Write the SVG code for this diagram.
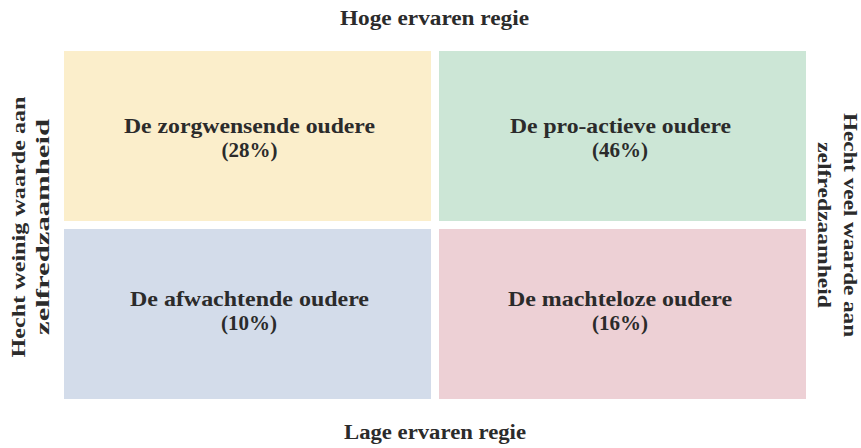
<svg xmlns="http://www.w3.org/2000/svg" width="861" height="448" viewBox="0 0 861 448">
<style>
text{font-family:"Liberation Serif","DejaVu Serif",serif;font-weight:bold;fill:#2b2b2b;text-anchor:middle}
.ax{font-size:20px}
.sd{font-size:19px}
.nl{font-size:21px}
</style>
<rect width="861" height="448" fill="#ffffff"/>
<g id="axis-top"><text class="ax" x="434.5" y="25" textLength="189" lengthAdjust="spacingAndGlyphs">Hoge ervaren regie</text></g>
<g id="axis-bottom"><text class="ax" x="435" y="439" textLength="182" lengthAdjust="spacingAndGlyphs">Lage ervaren regie</text></g>
<g id="axis-left" transform="translate(0,227) rotate(-90)">
<text class="sd" x="0" y="25" textLength="261" lengthAdjust="spacingAndGlyphs">Hecht weinig waarde aan</text>
<text class="sd" x="0" y="49" textLength="216" lengthAdjust="spacingAndGlyphs">zelfredzaamheid</text>
</g>
<g id="axis-right" transform="translate(0,225) rotate(90)">
<text class="sd" x="0" y="-844" textLength="224" lengthAdjust="spacingAndGlyphs">Hecht veel waarde aan</text>
<text class="sd" x="0" y="-818" textLength="166" lengthAdjust="spacingAndGlyphs">zelfredzaamheid</text>
</g>
<g id="zorgwensend">
<rect x="64" y="51" width="367" height="170" fill="#fbeecb"/>
<text class="nl" x="249.5" y="133" textLength="251" lengthAdjust="spacingAndGlyphs">De zorgwensende oudere</text>
<text class="nl" x="249.5" y="157">(28%)</text>
</g>
<g id="pro-actief">
<rect x="439" y="51" width="367" height="170" fill="#cce6d6"/>
<text class="nl" x="620.5" y="133" textLength="221" lengthAdjust="spacingAndGlyphs">De pro-actieve oudere</text>
<text class="nl" x="620" y="157">(46%)</text>
</g>
<g id="afwachtend">
<rect x="64" y="229" width="367" height="170" fill="#d3dcea"/>
<text class="nl" x="249.5" y="306" textLength="239" lengthAdjust="spacingAndGlyphs">De afwachtende oudere</text>
<text class="nl" x="249" y="330">(10%)</text>
</g>
<g id="machteloos">
<rect x="439" y="229" width="367" height="170" fill="#edd0d5"/>
<text class="nl" x="620" y="306" textLength="224" lengthAdjust="spacingAndGlyphs">De machteloze oudere</text>
<text class="nl" x="620" y="330">(16%)</text>
</g>
<g id="connectors"></g>
</svg>
